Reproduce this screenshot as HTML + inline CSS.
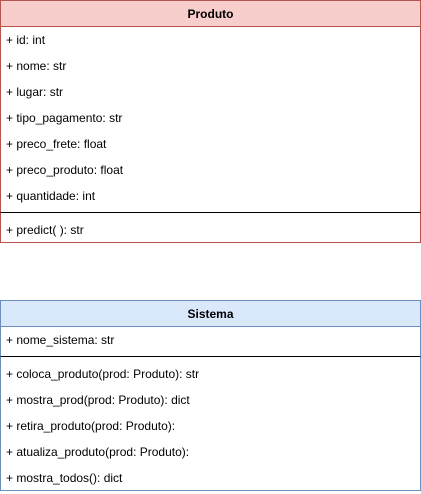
<!DOCTYPE html>
<html><head><meta charset="utf-8"><style>
html,body{margin:0;padding:0;background:#fff;width:421px;height:494px;overflow:hidden}
svg text{font-family:"Liberation Sans",Arial,sans-serif;font-size:12px;fill:#000}
</style></head><body>
<svg width="421" height="494" xmlns="http://www.w3.org/2000/svg">
<rect x="0.5" y="0.5" width="420" height="242" fill="#fff" stroke="#b85450"/>
<rect x="0.5" y="0.5" width="420" height="26" fill="#f8cecc" stroke="#b85450"/>
<text x="210.5" y="18" text-anchor="middle" font-weight="bold">Produto</text>
<text x="6" y="44">+ id: int</text>
<text x="6" y="70">+ nome: str</text>
<text x="6" y="96">+ lugar: str</text>
<text x="6" y="122">+ tipo_pagamento: str</text>
<text x="6" y="148">+ preco_frete: float</text>
<text x="6" y="174">+ preco_produto: float</text>
<text x="6" y="200">+ quantidade: int</text>
<line x1="0.5" y1="212.5" x2="420.5" y2="212.5" stroke="#000"/>
<text x="6" y="234">+ predict( ): str</text>

<rect x="0.5" y="300.5" width="420" height="190" fill="#fff" stroke="#6c8ebf"/>
<rect x="0.5" y="300.5" width="420" height="26" fill="#dae8fc" stroke="#6c8ebf"/>
<text x="210.5" y="318" text-anchor="middle" font-weight="bold">Sistema</text>
<text x="6" y="344">+ nome_sistema: str</text>
<line x1="0.5" y1="356.5" x2="420.5" y2="356.5" stroke="#000"/>
<text x="6" y="378">+ coloca_produto(prod: Produto): str</text>
<text x="6" y="404">+ mostra_prod(prod: Produto): dict</text>
<text x="6" y="430">+ retira_produto(prod: Produto):</text>
<text x="6" y="456">+ atualiza_produto(prod: Produto):</text>
<text x="6" y="482">+ mostra_todos(): dict</text>
</svg>
</body></html>
